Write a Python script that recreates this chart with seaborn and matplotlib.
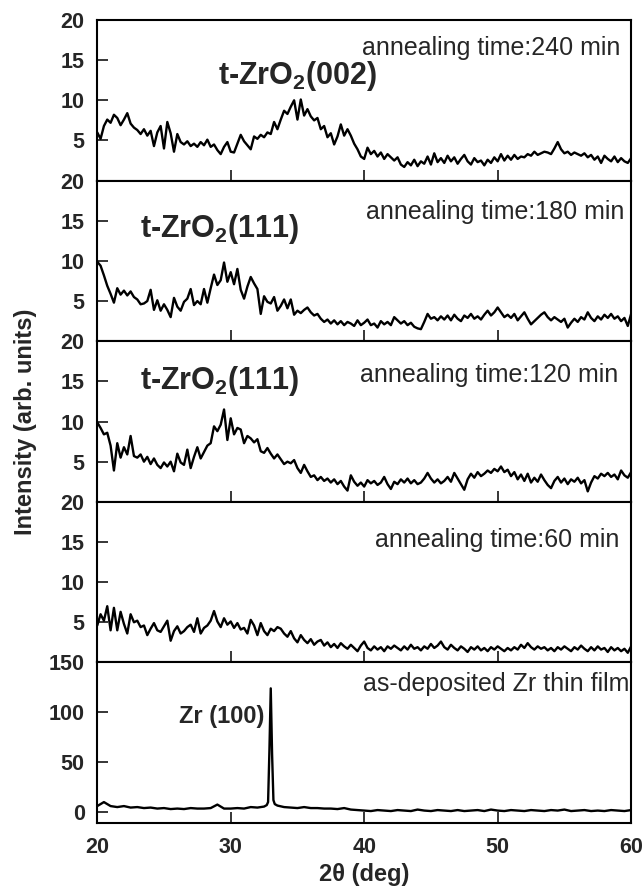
import numpy as np
import matplotlib
matplotlib.use("Agg")
import matplotlib.pyplot as plt
import seaborn as sns

# 2theta grid of the annealed scans (0.25 deg steps)
two_theta = np.arange(20, 60.01, 0.25)

p240 = [6.0, 5.2, 6.8, 7.6, 7.2, 8.2, 7.8, 6.9,
        7.6, 8.4, 7.1, 6.6, 6.3, 5.8, 6.4, 5.6,
        6.2, 4.3, 6.0, 6.8, 4.0, 7.3, 5.9, 3.6,
        5.8, 4.8, 4.5, 4.9, 4.3, 4.6, 4.2, 4.8,
        4.4, 5.1, 4.2, 4.5, 3.8, 3.3, 4.2, 4.8,
        3.6, 3.5, 4.6, 5.7, 4.9, 4.4, 3.9, 5.5,
        5.2, 5.7, 5.4, 6.0, 5.8, 7.3, 6.4, 7.6,
        8.7, 8.3, 9.2, 10.0, 7.6, 10.1, 8.1, 8.9,
        8.0, 7.5, 7.8, 6.4, 6.8, 5.4, 5.9, 4.5,
        5.5, 7.0, 5.6, 6.4, 5.6, 4.6, 3.9, 3.0,
        2.7, 4.1, 3.3, 3.7, 3.0, 3.5, 2.7, 3.3,
        2.9, 2.5, 2.9, 2.0, 1.7, 2.3, 1.9, 2.6,
        1.8, 2.4, 2.1, 3.0, 2.0, 3.4, 2.3, 2.8,
        2.2, 3.1, 2.4, 2.9, 2.1, 2.7, 3.2, 2.4,
        2.0, 2.8, 2.3, 2.5, 1.9, 2.6, 2.2, 2.9,
        2.4, 3.3, 2.5, 3.1, 2.6, 3.2, 2.7, 3.0,
        2.9, 3.3, 3.1, 3.6, 3.2, 3.4, 3.6, 3.5,
        3.3, 4.0, 4.8, 3.9, 3.4, 3.6, 3.2, 3.5,
        3.3, 3.1, 3.4, 2.9, 3.2, 2.6, 3.0, 2.2,
        3.1, 2.7, 2.4, 3.0, 2.3, 2.8, 2.4, 2.2,
        2.8]

p180 = [9.9, 9.4, 8.2, 6.9, 5.9, 4.8, 6.6, 5.8,
        6.3, 5.7, 6.2, 5.5, 5.2, 4.6, 4.7, 5.0,
        6.4, 3.9, 5.1, 3.8, 4.6, 3.9, 3.0, 5.4,
        4.3, 3.8, 4.9, 5.3, 6.5, 4.5, 5.0, 4.6,
        6.5, 4.8, 6.6, 8.3, 7.0, 7.6, 9.8, 7.4,
        8.6, 7.1, 9.0, 6.4, 5.3, 6.8, 8.0, 7.2,
        6.5, 3.4, 5.6, 4.9, 4.7, 5.5, 3.8, 4.4,
        5.2, 4.1, 5.2, 3.3, 3.8, 3.5, 3.9, 4.2,
        3.6, 3.2, 3.4, 2.8, 2.4, 2.7, 2.2, 2.6,
        2.1, 2.5, 2.0, 2.4, 2.2, 1.9, 2.6, 2.0,
        2.3, 2.7, 2.0, 2.2, 1.7, 2.5, 2.1, 2.4,
        2.0, 3.0, 2.6, 2.2, 2.5, 2.0, 2.3, 1.8,
        1.6, 1.5, 2.4, 3.4, 2.8, 3.0, 2.6, 3.1,
        2.7, 3.2, 2.6, 3.3, 2.8, 2.5, 3.2, 2.9,
        3.4, 2.8, 3.1, 2.7, 3.3, 3.8, 3.2, 3.6,
        4.2, 3.6, 3.0, 3.3, 2.9, 3.4, 2.6, 3.1,
        3.6, 2.8, 2.1, 2.5, 2.9, 3.3, 3.6, 3.0,
        2.6, 3.0, 2.7, 2.4, 2.8, 1.7, 2.3, 2.8,
        2.4, 3.0, 2.7, 3.6, 2.9, 2.5, 3.1, 2.7,
        3.3, 2.9, 3.4, 2.8, 3.1, 2.5, 2.9, 1.9,
        3.4]

p120 = [9.9, 9.2, 8.4, 8.6, 7.0, 3.9, 7.3, 5.5,
        6.8, 5.9, 8.2, 5.7, 5.5, 5.9, 5.0, 5.6,
        4.7, 5.4, 4.6, 4.2, 4.9, 4.4, 5.0, 3.8,
        6.0, 4.9, 4.6, 6.5, 4.2, 5.6, 6.8, 5.4,
        6.2, 7.0, 7.3, 9.4, 8.8, 9.6, 11.5, 7.7,
        10.4, 8.4, 9.2, 9.0, 7.3, 8.2, 7.9, 7.4,
        7.8, 6.3, 6.1, 6.7, 6.0, 5.4, 5.9, 5.3,
        4.7, 5.0, 4.8, 5.2, 4.2, 3.6, 4.6, 3.8,
        3.1, 3.3, 2.7, 3.1, 2.6, 2.9, 2.4, 2.8,
        2.2, 2.6, 1.9, 1.4, 3.3, 2.5, 2.0, 2.4,
        1.9, 2.7, 2.3, 2.6, 2.1, 2.4, 3.1, 2.2,
        1.6, 2.5, 2.2, 2.8, 2.4, 2.9, 2.3, 2.7,
        2.2, 2.4, 2.9, 3.6, 2.9, 2.4, 2.8, 2.3,
        2.6, 3.1, 2.5, 3.6, 2.9, 2.2, 1.5, 2.8,
        3.5, 3.0, 3.7, 3.2, 3.5, 3.9, 3.6, 4.1,
        3.8, 4.4, 3.7, 4.0, 3.2, 3.7, 2.8, 3.4,
        2.6, 3.5, 2.4, 3.0, 2.5, 3.4, 2.7, 2.1,
        1.7, 2.6, 3.1, 2.4, 2.9, 2.2, 2.8, 2.5,
        3.0, 2.3, 2.7, 1.3, 2.4, 3.2, 2.9, 3.5,
        3.2, 3.6, 3.1, 3.4, 2.8, 3.9, 3.3, 3.0,
        3.7]

p60 = [4.6, 6.0, 5.2, 7.0, 4.0, 6.8, 4.0, 6.3,
       4.8, 3.6, 6.0, 5.0, 5.2, 4.4, 4.6, 3.4,
       4.2, 4.9, 4.0, 3.8, 4.5, 5.2, 2.7, 3.9,
       4.5, 3.6, 3.9, 4.4, 4.7, 3.8, 5.5, 3.6,
       4.3, 4.6, 5.2, 6.4, 5.1, 4.4, 5.5, 4.7,
       5.1, 4.3, 4.9, 4.1, 4.3, 3.6, 5.3, 4.6,
       3.4, 4.9, 3.9, 3.4, 4.2, 3.9, 4.4, 4.2,
       3.6, 3.2, 3.9, 3.0, 2.5, 3.4, 2.8, 2.4,
       2.9, 2.2, 2.6, 2.8, 2.1, 2.5, 1.9, 2.3,
       1.8, 2.4, 2.0, 1.7, 2.2, 1.8, 1.4, 2.1,
       2.6, 1.8, 1.5, 2.0, 1.6, 1.9, 1.4, 2.0,
       1.7, 2.1, 1.8, 1.5, 2.0, 1.6, 2.2, 1.7,
       1.9, 1.5, 2.0, 1.7, 2.3, 1.8, 2.1, 2.6,
       1.9, 1.6, 2.2, 1.8, 1.5, 2.0, 1.7, 1.3,
       1.9, 1.6, 2.0, 1.5, 1.8, 1.4, 1.9, 1.6,
       2.0, 1.7, 1.4, 1.8, 1.5, 1.9, 1.6, 2.2,
       1.8, 2.4, 1.9, 1.6, 2.0, 1.7, 1.9, 1.5,
       1.8, 1.4, 1.9, 1.6, 2.0, 1.7, 1.4, 1.9,
       1.6, 2.1, 1.7, 1.4, 1.9, 1.5, 2.0, 1.6,
       1.8, 1.3, 1.9, 1.5, 1.8, 1.4, 1.7, 1.2,
       2.0]

# as-deposited film, finer sampling around the Zr (100) line
zr_2theta = [20.0, 20.5, 21.0, 21.5, 22.0, 22.5, 23.0, 23.5, 24.0, 24.5,
             25.0, 25.5, 26.0, 26.5, 27.0, 27.5, 28.0, 28.5, 29.0, 29.5,
             30.0, 30.5, 31.0, 31.5, 32.0, 32.5,
             32.7, 32.8, 32.9, 33.0, 33.1, 33.2, 33.3, 33.5,
             34.0, 34.5, 35.0, 35.5, 36.0, 36.5, 37.0, 37.5, 38.0, 38.5,
             39.0, 39.5, 40.0, 40.5, 41.0, 41.5, 42.0, 42.5, 43.0, 43.5,
             44.0, 44.5, 45.0, 45.5, 46.0, 46.5, 47.0, 47.5, 48.0, 48.5,
             49.0, 49.5, 50.0, 50.5, 51.0, 51.5, 52.0, 52.5, 53.0, 53.5,
             54.0, 54.5, 55.0, 55.5, 56.0, 56.5, 57.0, 57.5, 58.0, 58.5,
             59.0, 59.5, 60.0]
zr_counts = [6, 10, 6, 5, 6, 4.5, 5, 4, 4.5, 3.5,
             4, 3, 3.5, 3, 4, 3.5, 3.5, 4, 7.5, 3.5,
             3.5, 4, 3.5, 5, 4.5, 5.5,
             7, 10, 62, 124, 58, 12, 8, 6.5,
             5, 4.5, 4, 5, 4, 4, 3.5, 3.5, 3, 4,
             2.5, 2, 1.5, 1, 2, 1.5, 1, 2, 1.5, 1,
             2.5, 1.5, 1, 2, 1.5, 1, 2, 1, 1.5, 2,
             1, 2.5, 1.5, 1, 2, 1.5, 1, 2, 1.5, 1,
             2, 1.5, 2.5, 1, 1.5, 2, 1, 1.5, 1, 2,
             1.5, 1, 2]

labels = ["annealing time:240 min", "annealing time:180 min",
          "annealing time:120 min", "annealing time:60 min",
          "as-deposited Zr thin film"]

sns.set_style("ticks")
plt.rcParams['font.family'] = ['Liberation Sans', 'DejaVu Sans']
plt.rcParams['mathtext.fontset'] = 'custom'
plt.rcParams['mathtext.rm'] = 'Liberation Sans:bold'
plt.rcParams['mathtext.bf'] = 'Liberation Sans:bold'
plt.rcParams['mathtext.it'] = 'Liberation Sans:bold'

fig, axes = plt.subplots(5, 1, figsize=(6.44, 8.89), dpi=100, sharex=True)
fig.subplots_adjust(left=0.151, right=0.980, top=0.9775, bottom=0.0742, hspace=0)

series = [p240, p180, p120, p60]
label_x = [59.2, 59.5, 59.0, 59.1]
label_y = [15.7, 15.2, 14.9, 14.4]
for ax, vals, lab, lx, ly in zip(axes[:4], series, labels, label_x, label_y):
    sns.lineplot(x=two_theta, y=vals, ax=ax, color="black", linewidth=1.7)
    ax.set_ylim(0, 20)
    ax.set_yticks([5, 10, 15, 20])
    ax.text(lx, ly, lab, ha="right", va="baseline", fontsize=18)

ax5 = axes[4]
sns.lineplot(x=zr_2theta, y=zr_counts, ax=ax5, color="black", linewidth=1.7)
ax5.set_ylim(-11, 150)
ax5.set_yticks([0, 50, 100, 150])
ax5.text(59.9, 121, labels[4], ha="right", va="baseline", fontsize=18)
ax5.text(32.5, 89, "Zr (100)", ha="right", va="baseline", fontsize=17, fontweight="bold")

peak_kw = dict(ha="center", va="baseline", fontsize=22, fontweight="bold")
axes[0].text(35.0, 12.0, r"t-ZrO$_2$(002)", **peak_kw)
axes[1].text(29.2, 13.0, r"t-ZrO$_2$(111)", **peak_kw)
axes[2].text(29.2, 14.0, r"t-ZrO$_2$(111)", **peak_kw)

for ax in axes:
    ax.set_xlim(20, 60)
    ax.set_xticks([20, 30, 40, 50, 60])
    ax.set_ylabel("")
    ax.tick_params(direction="in", length=8, width=1.3, labelsize=15.5)
    ax.tick_params(axis="y", pad=9)
    ax.tick_params(axis="x", pad=10, top=False)
    for s in ax.spines.values():
        s.set_linewidth(1.5)
        s.set_color("black")
    for t in ax.get_yticklabels() + ax.get_xticklabels():
        t.set_fontweight("bold")

ax5.set_xlabel("2θ (deg)", fontsize=17, fontweight="bold", labelpad=4)
fig.text(0.040, 0.526, "Intensity (arb. units)", rotation=90, ha="center", va="center",
         fontsize=17, fontweight="bold")

fig.savefig("out.png", dpi=100)
